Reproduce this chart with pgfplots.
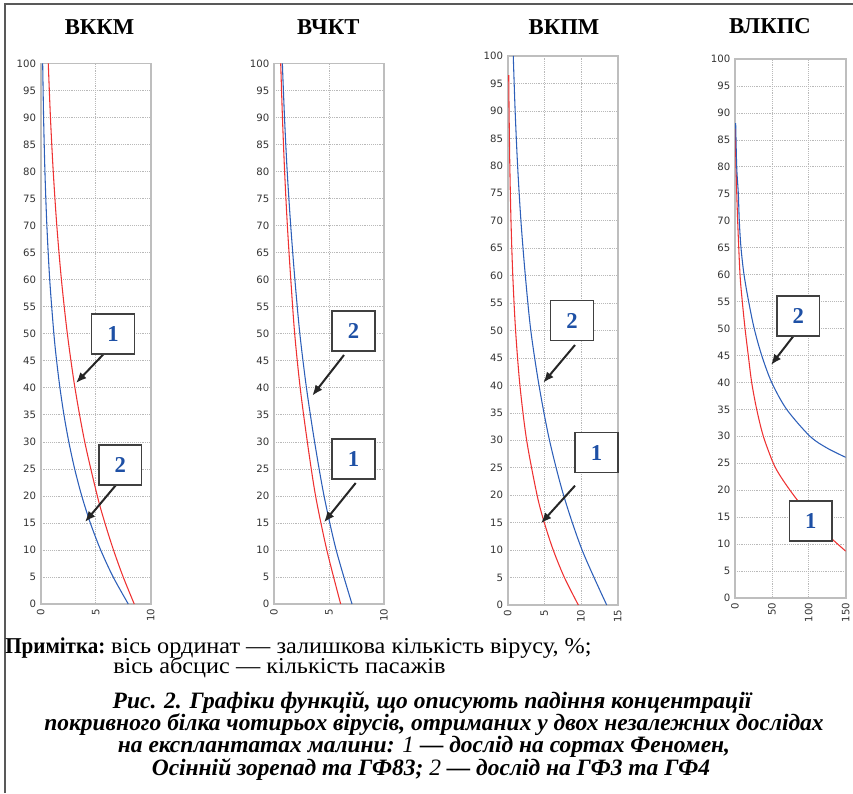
\documentclass[border=0pt]{standalone}
\usepackage{fontspec}
\setmainfont{Liberation Serif}
\newfontfamily\tickfont{DejaVu Sans}
\usepackage{pgfplots}
\pgfplotsset{compat=1.18}
\usetikzlibrary{arrows.meta}
\definecolor{cred}{RGB}{238,50,50}
\definecolor{cblue}{RGB}{45,95,185}
\definecolor{numblue}{RGB}{30,80,165}
\definecolor{framegray}{RGB}{190,190,190}
\pgfplotsset{
  panel/.style={
    scale only axis,
    ymin=0, ymax=100, xmin=0,
    ytick={0,5,...,100},
    grid=major,
    major grid style={densely dotted, gray!55, line width=0.5pt},
    major tick length=0pt,
    axis line style={framegray, line width=1.3pt},
    /pgf/number format/assume math mode=true,
    ticklabel style={font=\tickfont\fontsize{7.6}{8}\selectfont, text=black!80},
    xticklabel style={rotate=90, anchor=east},
    anchor=south west,
    clip=true,
  },
  cr/.style={cred, line width=0.8pt, smooth, no marks},
  cb/.style={cblue, line width=0.8pt, smooth, no marks},
}
\tikzset{
  callout/.style={draw=black!75, line width=1.2pt, fill=white, minimum width=32pt, minimum height=30pt, inner sep=0pt,
    font=\fontsize{17}{17}\selectfont\bfseries, text=numblue},
  arr/.style={line width=1.5pt, black!85, -{Latex[length=8pt,width=6.5pt]}},
}
\begin{document}
\begin{tikzpicture}[x=0.75pt,y=0.75pt]
\path[use as bounding box] (0,0) rectangle (853,793);
% frame
\draw[black!65, line width=1.4pt] (5,0) -- (5,789) -- (853,789);

% Panel 1: VKKM
\begin{axis}[panel, at={(30.525pt,141.75pt)}, width=82.5pt, height=405.4pt, xmax=10, xtick={0,5,10}]
\addplot[cr] coordinates {(0.689,100)(0.886,90)(1.140,80)(1.465,70)(1.884,60)(2.422,50)(3.113,40)(4.003,30)(5.146,20)(5.835,15)(6.616,10)(7.50,5)(8.505,0)};
\addplot[cb] coordinates {(0.180,100)(0.263,90)(0.384,80)(0.561,70)(0.820,60)(1.197,50)(1.447,45)(1.749,40)(2.113,35)(2.554,30)(3.087,25)(3.731,20)(4.509,15)(5.450,10)(6.587,5)(7.962,0)};
\end{axis}

% Panel 2: VChKT
\begin{axis}[panel, at={(205.5pt,141.75pt)}, width=82.5pt, height=405.4pt, xmax=10, xtick={0,5,10}]
\addplot[cr] coordinates {(0.610,100)(0.768,90)(0.965,80)(1.215,70)(1.528,60)(1.88,50)(2.38,40)(3.03,30)(3.78,20)(4.80,10)(6.061,0)};
\addplot[cb] coordinates {(0.760,100)(0.955,90)(1.20,80)(1.52,70)(1.90,60)(2.35,50)(2.95,40)(3.69,30)(4.55,20)(5.65,10)(7.091,0)};
\end{axis}

% Panel 3: VKPM
\begin{axis}[panel, at={(380.775pt,141pt)}, width=82.5pt, height=411.75pt, xmax=15, xtick={0,5,10,15}]
\addplot[cr] coordinates {(0.140,96.5)(0.186,90)(0.289,80)(0.448,70)(0.694,60)(1.076,50)(1.667,40)(2.585,30)(4.007,20)(4.989,15)(6.212,10)(7.733,5)(9.630,0)};
\addplot[cb] coordinates {(0.760,100)(1.014,90)(1.351,80)(1.802,70)(2.403,60)(3.15,50)(4.27,40)(5.70,30)(7.62,20)(10.15,10)(13.50,0)};
\end{axis}

% Panel 4: VLKPS
\begin{axis}[panel, at={(551.25pt,146.25pt)}, width=83pt, height=404.25pt, xmax=150, xtick={0,50,100,150}]
\addplot[cr] coordinates {(0.4,87.1)(1.35,80)(3.6,70)(6.8,60)(9.9,55)(13.6,50)(18.0,45)(22.6,40)(29.4,35)(38.4,30)(51.9,25)(62,22.5)(74.5,20)(86,17.9)(100,15.6)(115,13.2)(131.9,10.9)(150,8.7)};
\addplot[cb] coordinates {(0.9,88.1)(2.3,80)(4.5,75)(5.8,70)(8.1,65)(12.2,60)(18.5,55)(26,50)(36.2,45)(49.7,40)(70,35)(101.6,30)(125,27.8)(150,26.1)};
\end{axis}

% annotations in pixel coordinates (y downward)
\begin{scope}[shift={(0,793)}, yscale=-1]
\node[font=\fontsize{17}{17}\selectfont\bfseries] at (99.5,27) {ВККМ};
\node[font=\fontsize{17}{17}\selectfont\bfseries] at (328.3,27.5) {ВЧКТ};
\node[font=\fontsize{17}{17}\selectfont\bfseries] at (564,27.5) {ВКПМ};
\node[font=\fontsize{17}{17}\selectfont\bfseries] at (770,26) {ВЛКПС};

% panel 1
\draw[arr] (107.5,350) -- (76,383);
\node[callout] at (113,334) {1};
\draw[arr] (116,485) -- (85,522);
\node[callout] at (120.3,465) {2};
% panel 2
\draw[arr] (344,355) -- (312.3,395.7);
\node[callout] at (353.6,331) {2};
\draw[arr] (355.7,483) -- (324,522.3);
\node[callout] at (353.6,459) {1};
% panel 3
\draw[arr] (575,345) -- (543.3,382.7);
\node[callout] at (572,320.7) {2};
\draw[arr] (575,485.7) -- (541,523.3);
\node[callout] at (596.6,452.7) {1};
% panel 4
\draw[arr] (795,334) -- (771,365);
\node[callout] at (798.3,316) {2};
\node[callout] at (810.8,521) {1};

% note
\node[anchor=base west, inner sep=0pt, font=\fontsize{17}{17}\selectfont] at (5,653)
  {\scalebox{0.93}[1]{\textbf{Примітка:}} \scalebox{1.07}[1]{вісь ординат — залишкова кількість вірусу, \%;}};
\node[anchor=base west, inner sep=0pt, font=\fontsize{17}{17}\selectfont] at (113,673.5)
  {\scalebox{1.07}[1]{вісь абсцис — кількість пасажів}};
% caption
\begin{scope}[every node/.style={anchor=base, inner sep=0pt, font=\fontsize{17.6}{18}\selectfont\bfseries\itshape}]
\node at (432,708) {Рис. 2. Графіки функцій, що описують падіння концентрації};
\node at (434,730) {покривного білка чотирьох вірусів, отриманих у двох незалежних дослідах};
\node at (424,752.5) {на експлантатах малини: \mdseries 1 \bfseries — дослід на сортах Феномен,};
\node at (431,775) {Осінній зорепад та ГФ83; \mdseries 2 \bfseries — дослід на ГФ3 та ГФ4};
\end{scope}
\end{scope}
\end{tikzpicture}
\end{document}
